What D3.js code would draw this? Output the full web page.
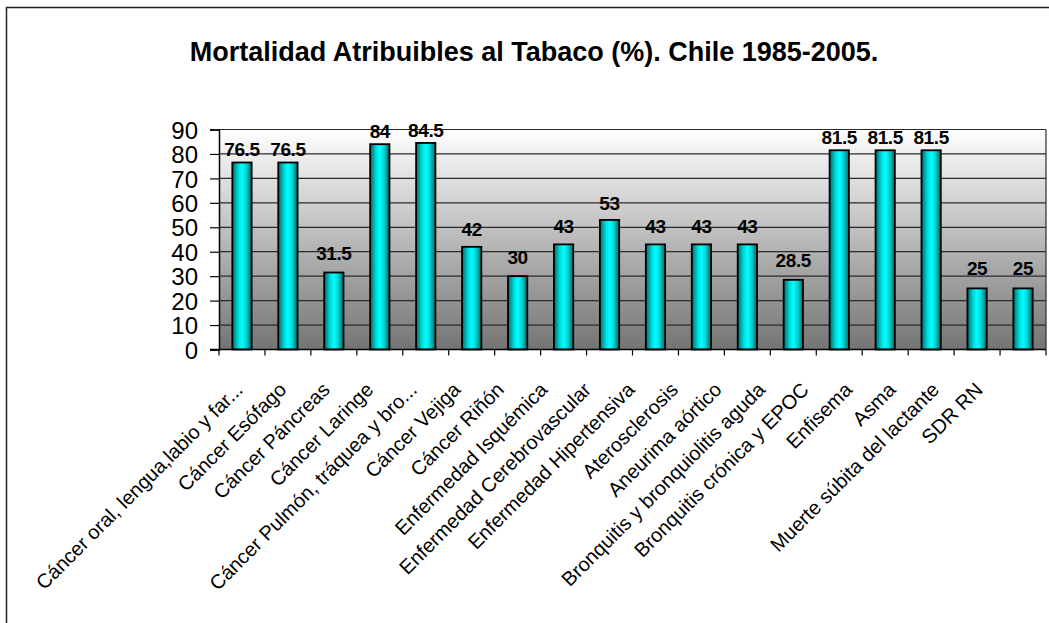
<!DOCTYPE html>
<html>
<head>
<meta charset="utf-8">
<script src="https://cdnjs.cloudflare.com/ajax/libs/d3/7.8.5/d3.min.js"></script>
<style>
	body { margin: 0; background: #fff; }
	svg text { font-family: "Liberation Sans", Arial, sans-serif; }
</style>
</head>
<body>
<div id="chart"></div>
<script>
// chart data
var categories = [
	"Cáncer oral, lengua,labio y far...", "Cáncer Esófago", "Cáncer  Páncreas", "Cáncer Laringe",
	"Cáncer Pulmón, tráquea y bro...", "Cáncer Vejiga", "Cáncer Riñón", "Enfermedad Isquémica",
	"Enfermedad Cerebrovascular", "Enfermedad Hipertensiva", "Aterosclerosis", "Aneurima aórtico",
	"Bronquitis y bronquiolitis aguda", "Bronquitis crónica  y EPOC", "Enfisema", "Asma",
	"Muerte súbita del lactante", "SDR RN"
];
var values = [76.5, 76.5, 31.5, 84, 84.5, 42, 30, 43, 53, 43, 43, 43, 28.5, 81.5, 81.5, 81.5, 25, 25];
var yTicks = [0, 10, 20, 30, 40, 50, 60, 70, 80, 90];
var title = "Mortalidad Atribuibles al Tabaco (%). Chile 1985-2005.";

var W = 1049, H = 623;
var plot = {left: 219, right: 1046, top: 129.5, bottom: 349.5};

var svg = d3.select("#chart").append("svg")
	.attr("width", W)
	.attr("height", H);

var defs = svg.append("defs");

// plot background: white to gray
var bg = defs.append("linearGradient").attr("id", "bgGrad")
	.attr("x1", 0).attr("y1", 0).attr("x2", 0).attr("y2", 1);
bg.append("stop").attr("offset", "0%").attr("stop-color", "#ffffff");
bg.append("stop").attr("offset", "100%").attr("stop-color", "#747474");

// bar fill: dark teal edges, bright cyan middle
var bar = defs.append("linearGradient").attr("id", "barGrad")
	.attr("x1", 0).attr("y1", 0).attr("x2", 1).attr("y2", 0);
bar.append("stop").attr("offset", "0%").attr("stop-color", "#006a6a");
bar.append("stop").attr("offset", "30%").attr("stop-color", "#00d8d8");
bar.append("stop").attr("offset", "50%").attr("stop-color", "#00ffff");
bar.append("stop").attr("offset", "70%").attr("stop-color", "#00d8d8");
bar.append("stop").attr("offset", "100%").attr("stop-color", "#006a6a");

// outer frame
svg.append("rect")
	.attr("x", 6.5).attr("y", 7.5)
	.attr("width", W + 10).attr("height", H + 10)
	.attr("fill", "none")
	.attr("stroke", "#222")
	.attr("stroke-width", 1.5);

svg.append("text")
	.attr("x", 534)
	.attr("y", 61)
	.attr("text-anchor", "middle")
	.attr("font-size", 27)
	.attr("font-weight", "bold")
	.text(title);

var x = d3.scaleBand()
	.domain(categories)
	.range([plot.left, plot.right])
	.paddingInner(0.58)
	.paddingOuter(0.29);

var y = d3.scaleLinear()
	.domain([0, 90])
	.range([plot.bottom, plot.top]);

// the label layer sits on a slightly smaller grid than the bars
var labelX = d3.scalePoint()
	.domain(categories)
	.range([244, 984]);

var labelY = d3.scaleLinear()
	.domain([0, 90])
	.range([333, 124.6]);

svg.append("rect")
	.attr("x", plot.left).attr("y", plot.top)
	.attr("width", plot.right - plot.left)
	.attr("height", plot.bottom - plot.top)
	.attr("fill", "url(#bgGrad)");

// gridlines
svg.append("g")
	.selectAll("line")
	.data(yTicks.slice(1))
	.join("line")
	.attr("x1", plot.left).attr("x2", plot.right)
	.attr("y1", function (d) { return y(d); })
	.attr("y2", function (d) { return y(d); })
	.attr("stroke", "#2a2a2a")
	.attr("stroke-width", 1.2);

svg.append("line")
	.attr("x1", plot.right).attr("x2", plot.right)
	.attr("y1", plot.top).attr("y2", plot.bottom)
	.attr("stroke", "#2a2a2a")
	.attr("stroke-width", 1.2);

// bars
svg.append("g")
	.selectAll("rect")
	.data(values)
	.join("rect")
	.attr("x", function (d, i) { return x(categories[i]); })
	.attr("y", function (d) { return y(d); })
	.attr("width", x.bandwidth())
	.attr("height", function (d) { return y(0) - y(d); })
	.attr("fill", "url(#barGrad)")
	.attr("stroke", "#000")
	.attr("stroke-width", 1.8);

// value labels
svg.append("g")
	.selectAll("text")
	.data(values)
	.join("text")
	.attr("x", function (d, i) { return x(categories[i]) + x.bandwidth() / 2; })
	.attr("y", function (d) { return labelY(d); })
	.attr("text-anchor", "middle")
	.attr("font-size", 19)
	.attr("font-weight", "bold")
	.attr("letter-spacing", -0.4)
	.text(function (d) { return d; });

// y axis
var yAxis = svg.append("g")
	.attr("transform", "translate(" + plot.left + ",0)")
	.call(d3.axisLeft(y).tickValues(yTicks).tickSize(9).tickPadding(12));
yAxis.select(".domain").attr("stroke", "#000").attr("stroke-width", 1.5);
yAxis.selectAll(".tick line").attr("stroke", "#000").attr("stroke-width", 1.2);
yAxis.selectAll(".tick text")
	.attr("font-size", 24)
	.attr("fill", "#000")
	.attr("dy", "0.36em");

// x axis line and boundary ticks
svg.append("line")
	.attr("x1", plot.left - 9).attr("x2", plot.right)
	.attr("y1", plot.bottom).attr("y2", plot.bottom)
	.attr("stroke", "#000")
	.attr("stroke-width", 1.5);

var step = x.step();
svg.append("g")
	.selectAll("line")
	.data(d3.range(categories.length + 1))
	.join("line")
	.attr("x1", function (i) { return plot.left + i * step; })
	.attr("x2", function (i) { return plot.left + i * step; })
	.attr("y1", plot.bottom).attr("y2", plot.bottom + 6)
	.attr("stroke", "#000")
	.attr("stroke-width", 1.2);

// rotated category labels
svg.append("g")
	.selectAll("text")
	.data(categories)
	.join("text")
	.attr("transform", function (d) {
		return "translate(" + labelX(d) + ",391) rotate(-45)";
	})
	.attr("text-anchor", "end")
	.attr("font-size", 20)
	.attr("fill", "#000")
	.text(function (d) { return d; });
</script>
</body>
</html>
